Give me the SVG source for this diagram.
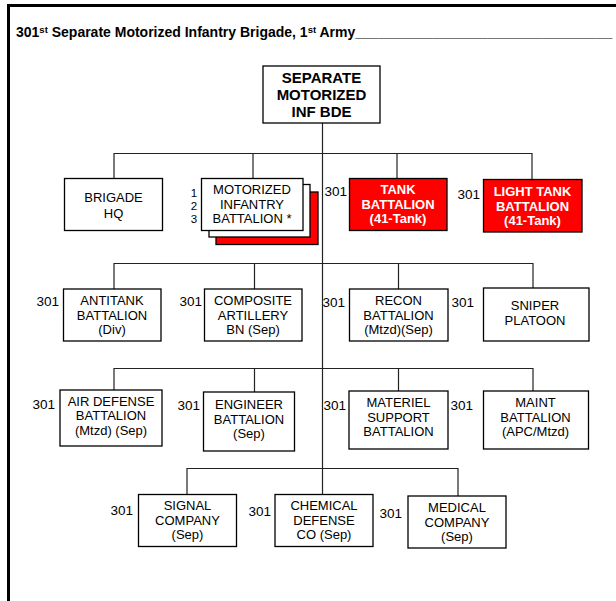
<svg xmlns="http://www.w3.org/2000/svg" width="616" height="601" viewBox="0 0 616 601">
<style>
  text { font-family: "Liberation Sans", Arial, sans-serif; fill: #000; }
  .t { font-size: 13px; text-anchor: middle; }
  .tb { font-size: 13px; font-weight: bold; text-anchor: middle; fill: #fff; }
  .top { font-size: 15px; font-weight: bold; text-anchor: middle; }
  .n { font-size: 13.5px; text-anchor: end; }
  .k { font-size: 11.5px; text-anchor: middle; }
  .box { fill: #fff; stroke: #000; stroke-width: 1.3; }
  .red { fill: #ff0000; stroke: #000; stroke-width: 1.3; }
  .ln { fill: none; stroke: #222; stroke-width: 1.2; }
</style>
<rect width="616" height="601" fill="#fff"/>
<!-- frame -->
<line x1="7" y1="5.5" x2="616" y2="5.5" stroke="#000" stroke-width="3"/>
<line x1="8.5" y1="4" x2="8.5" y2="601" stroke="#000" stroke-width="3"/>
<text x="16" y="37" font-size="14" font-weight="bold">301<tspan font-size="9.5" dy="-4.5">st</tspan><tspan dy="4.5"> Separate Motorized Infantry Brigade, 1</tspan><tspan font-size="9.5" dy="-4.5">st</tspan><tspan dy="4.5"> Army_________________________________</tspan></text>

<g id="connectors">
  <path class="ln" d="M322.5 123 V494.5"/>
  <path class="ln" d="M114 178.5 V153.5 H532 V179.5 M253 153.5 V178.5 M397 153.5 V178.5"/>
  <path class="ln" d="M114 289 V263.5 H533 V288 M254.5 263.5 V289 M398.5 263.5 V289"/>
  <path class="ln" d="M114 390 V368.5 H533 V391 M254.5 368.5 V392 M398.5 368.5 V391"/>
  <path class="ln" d="M187 494.5 V468.5 H458 V496"/>
</g>

<g id="top">
  <rect class="box" x="263" y="66" width="117" height="57"/>
  <text class="top" x="321.5" y="83">SEPARATE<tspan x="321.5" dy="16.8">MOTORIZED</tspan><tspan x="321.5" dy="16.8">INF BDE</tspan></text>
</g>

<g id="brigade-hq">
  <rect class="box" x="64.5" y="178.5" width="98" height="52"/>
  <text class="t" x="113.5" y="202">BRIGADE<tspan x="113.5" dy="16">HQ</tspan></text>
</g>

<g id="mot-inf-bn">
  <rect class="red" x="216" y="192" width="102" height="52.5"/>
  <rect class="box" x="209" y="184.5" width="101" height="52.5"/>
  <rect class="box" x="201.5" y="178.5" width="101.5" height="52"/>
  <text class="t" x="252" y="194">MOTORIZED<tspan x="252" dy="14.6">INFANTRY</tspan><tspan x="252" dy="14.6">BATTALION *</tspan></text>
  <text class="k" x="194" y="197">1<tspan x="194" dy="12.9">2</tspan><tspan x="194" dy="12.9">3</tspan></text>
</g>

<g id="tank-bn">
  <rect class="red" x="349.5" y="178.5" width="97.5" height="52"/>
  <text class="tb" x="398" y="194">TANK<tspan x="398" dy="14.6">BATTALION</tspan><tspan x="398" dy="14.6">(41-Tank)</tspan></text>
  <text class="n" x="347" y="196">301</text>
</g>

<g id="light-tank-bn">
  <rect class="red" x="483.5" y="179.5" width="98.5" height="52.5"/>
  <text class="tb" x="532.5" y="196">LIGHT TANK<tspan x="532.5" dy="14.6">BATTALION</tspan><tspan x="532.5" dy="14.6">(41-Tank)</tspan></text>
  <text class="n" x="480" y="199">301</text>
</g>

<g id="antitank-bn">
  <rect class="box" x="63.5" y="289" width="97.5" height="52"/>
  <text class="t" x="112" y="305">ANTITANK<tspan x="112" dy="14.6">BATTALION</tspan><tspan x="112" dy="14.6">(Div)</tspan></text>
  <text class="n" x="59" y="306">301</text>
</g>

<g id="composite-arty-bn">
  <rect class="box" x="204.5" y="289" width="97.5" height="52"/>
  <text class="t" x="253" y="305">COMPOSITE<tspan x="253" dy="14.6">ARTILLERY</tspan><tspan x="253" dy="14.6">BN (Sep)</tspan></text>
  <text class="n" x="202" y="306">301</text>
</g>

<g id="recon-bn">
  <rect class="box" x="349.5" y="289" width="98.5" height="52"/>
  <text class="t" x="398.5" y="305">RECON<tspan x="398.5" dy="14.6">BATTALION</tspan><tspan x="398.5" dy="14.6">(Mtzd)(Sep)</tspan></text>
  <text class="n" x="345" y="307">301</text>
</g>

<g id="sniper-plt">
  <rect class="box" x="483.5" y="288" width="105.5" height="53"/>
  <text class="t" x="535" y="310">SNIPER<tspan x="535" dy="15">PLATOON</tspan></text>
  <text class="n" x="474" y="307">301</text>
</g>

<g id="air-defense-bn">
  <rect class="box" x="60" y="390" width="102" height="56"/>
  <text class="t" x="111" y="405.5">AIR DEFENSE<tspan x="111" dy="14.6">BATTALION</tspan><tspan x="111" dy="14.6">(Mtzd) (Sep)</tspan></text>
  <text class="n" x="55" y="409">301</text>
</g>

<g id="engineer-bn">
  <rect class="box" x="203.5" y="392" width="91" height="59"/>
  <text class="t" x="249" y="409">ENGINEER<tspan x="249" dy="14.6">BATTALION</tspan><tspan x="249" dy="14.6">(Sep)</tspan></text>
  <text class="n" x="200" y="410">301</text>
</g>

<g id="materiel-support-bn">
  <rect class="box" x="349" y="391" width="99" height="58"/>
  <text class="t" x="398.5" y="407">MATERIEL<tspan x="398.5" dy="14.6">SUPPORT</tspan><tspan x="398.5" dy="14.6">BATTALION</tspan></text>
  <text class="n" x="346" y="410">301</text>
</g>

<g id="maint-bn">
  <rect class="box" x="483.5" y="391" width="105" height="58"/>
  <text class="t" x="535.5" y="407">MAINT<tspan x="535.5" dy="14.6">BATTALION</tspan><tspan x="535.5" dy="14.6">(APC/Mtzd)</tspan></text>
  <text class="n" x="473" y="410">301</text>
</g>

<g id="signal-co">
  <rect class="box" x="138.5" y="494.5" width="98" height="52"/>
  <text class="t" x="187.5" y="510">SIGNAL<tspan x="187.5" dy="14.6">COMPANY</tspan><tspan x="187.5" dy="14.6">(Sep)</tspan></text>
  <text class="n" x="133" y="515">301</text>
</g>

<g id="chem-def-co">
  <rect class="box" x="275" y="494.5" width="98" height="52"/>
  <text class="t" x="324" y="510">CHEMICAL<tspan x="324" dy="14.6">DEFENSE</tspan><tspan x="324" dy="14.6">CO (Sep)</tspan></text>
  <text class="n" x="271" y="516">301</text>
</g>

<g id="medical-co">
  <rect class="box" x="408" y="496" width="98" height="52"/>
  <text class="t" x="457" y="512">MEDICAL<tspan x="457" dy="14.6">COMPANY</tspan><tspan x="457" dy="14.6">(Sep)</tspan></text>
  <text class="n" x="402" y="517.5">301</text>
</g>
</svg>
